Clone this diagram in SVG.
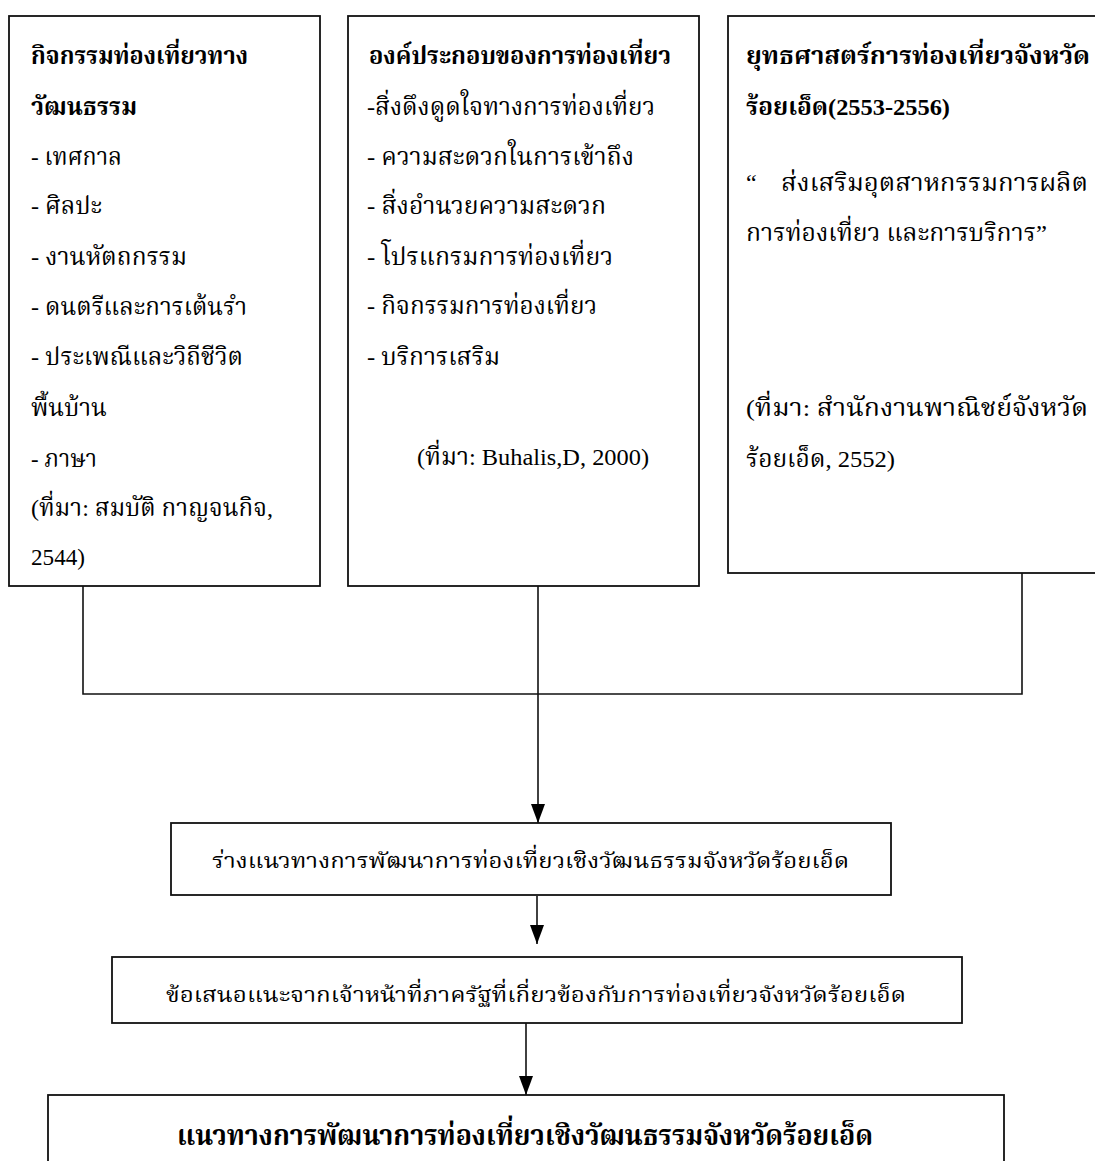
<svg xmlns="http://www.w3.org/2000/svg" width="1095" height="1161" viewBox="0 0 1095 1161">
<style>
.box{fill:#fff;stroke:#111;stroke-width:1.8}
.t{font-family:"Liberation Serif","Noto Serif Thai","Noto Sans Thai",serif;font-size:24px;fill:#000}
.s{font-size:22px}
.b{font-weight:bold}
.big{font-size:28px;font-weight:bold}
.ln{fill:none;stroke:#111;stroke-width:1.6}
</style>
<defs>
<marker id="ah" markerUnits="userSpaceOnUse" markerWidth="19" markerHeight="14" refX="19" refY="7" orient="auto">
<path d="M0,0 L19,7 L0,14 z" fill="#000"/>
</marker>
</defs>
<g id="connectors">
<path class="ln" d="M83,586 V694 H1022 V573"/>
<line class="ln" x1="538" y1="586" x2="538" y2="823" marker-end="url(#ah)"/>
<line class="ln" x1="537" y1="896" x2="537" y2="944" marker-end="url(#ah)"/>
<line class="ln" x1="526" y1="1023" x2="526" y2="1095" marker-end="url(#ah)"/>
</g>
<g id="node-cultural-activities">
<rect class="box" x="9" y="16" width="311" height="570"/>
<text class="t b" x="31" y="64" textLength="217" lengthAdjust="spacingAndGlyphs">กิจกรรมท่องเที่ยวทาง</text>
<text class="t b" x="31" y="115" textLength="106" lengthAdjust="spacingAndGlyphs">วัฒนธรรม</text>
<text class="t" x="31" y="165" textLength="91" lengthAdjust="spacingAndGlyphs">- เทศกาล</text>
<text class="t" x="31" y="214" textLength="71" lengthAdjust="spacingAndGlyphs">- ศิลปะ</text>
<text class="t" x="31" y="265" textLength="156" lengthAdjust="spacingAndGlyphs">- งานหัตถกรรม</text>
<text class="t" x="31" y="315" textLength="216" lengthAdjust="spacingAndGlyphs">- ดนตรีและการเต้นรำ</text>
<text class="t" x="31" y="365" textLength="212" lengthAdjust="spacingAndGlyphs">- ประเพณีและวิถีชีวิต</text>
<text class="t" x="31" y="416" textLength="76" lengthAdjust="spacingAndGlyphs">พื้นบ้าน</text>
<text class="t" x="31" y="467" textLength="66" lengthAdjust="spacingAndGlyphs">- ภาษา</text>
<text class="t" x="31" y="516" textLength="242" lengthAdjust="spacingAndGlyphs">(ที่มา: สมบัติ กาญจนกิจ,</text>
<text class="t" x="31" y="565" textLength="54" lengthAdjust="spacingAndGlyphs">2544)</text>
</g>
<g id="node-tourism-components">
<rect class="box" x="348" y="16" width="351" height="570"/>
<text class="t b" x="369" y="64" textLength="302" lengthAdjust="spacingAndGlyphs">องค์ประกอบของการท่องเที่ยว</text>
<text class="t" x="367" y="115" textLength="288" lengthAdjust="spacingAndGlyphs">-สิ่งดึงดูดใจทางการท่องเที่ยว</text>
<text class="t" x="367" y="165" textLength="267" lengthAdjust="spacingAndGlyphs">- ความสะดวกในการเข้าถึง</text>
<text class="t" x="367" y="214" textLength="239" lengthAdjust="spacingAndGlyphs">- สิ่งอำนวยความสะดวก</text>
<text class="t" x="367" y="265" textLength="246" lengthAdjust="spacingAndGlyphs">- โปรแกรมการท่องเที่ยว</text>
<text class="t" x="367" y="314" textLength="230" lengthAdjust="spacingAndGlyphs">- กิจกรรมการท่องเที่ยว</text>
<text class="t" x="367" y="365" textLength="133" lengthAdjust="spacingAndGlyphs">- บริการเสริม</text>
<text class="t" x="417" y="465" textLength="232" lengthAdjust="spacingAndGlyphs">(ที่มา: Buhalis,D, 2000)</text>
</g>
<g id="node-strategy">
<rect class="box" x="728" y="16" width="380" height="557"/>
<text class="t b" x="746" y="64" textLength="344" lengthAdjust="spacingAndGlyphs">ยุทธศาสตร์การท่องเที่ยวจังหวัด</text>
<text class="t b" x="746" y="115" textLength="204" lengthAdjust="spacingAndGlyphs">ร้อยเอ็ด(2553-2556)</text>
<text class="t" x="746" y="191">“</text>
<text class="t" x="781" y="191" textLength="307" lengthAdjust="spacingAndGlyphs">ส่งเสริมอุตสาหกรรมการผลิต</text>
<text class="t" x="746" y="241" textLength="301" lengthAdjust="spacingAndGlyphs">การท่องเที่ยว และการบริการ”</text>
<text class="t" x="746" y="416" textLength="342" lengthAdjust="spacingAndGlyphs">(ที่มา: สำนักงานพาณิชย์จังหวัด</text>
<text class="t" x="746" y="467" textLength="149" lengthAdjust="spacingAndGlyphs">ร้อยเอ็ด, 2552)</text>
</g>
<g id="node-draft">
<rect class="box" x="171" y="823" width="720" height="72"/>
<text class="t s" x="212" y="868" textLength="637" lengthAdjust="spacingAndGlyphs">ร่างแนวทางการพัฒนาการท่องเที่ยวเชิงวัฒนธรรมจังหวัดร้อยเอ็ด</text>
</g>
<g id="node-suggestions">
<rect class="box" x="112" y="957" width="850" height="66"/>
<text class="t s" x="166" y="1002" textLength="740" lengthAdjust="spacingAndGlyphs">ข้อเสนอแนะจากเจ้าหน้าที่ภาครัฐที่เกี่ยวข้องกับการท่องเที่ยวจังหวัดร้อยเอ็ด</text>
</g>
<g id="node-guidelines">
<rect class="box" x="48" y="1095" width="956" height="80"/>
<text class="t big" x="177" y="1145" textLength="696" lengthAdjust="spacingAndGlyphs">แนวทางการพัฒนาการท่องเที่ยวเชิงวัฒนธรรมจังหวัดร้อยเอ็ด</text>
</g>
</svg>
